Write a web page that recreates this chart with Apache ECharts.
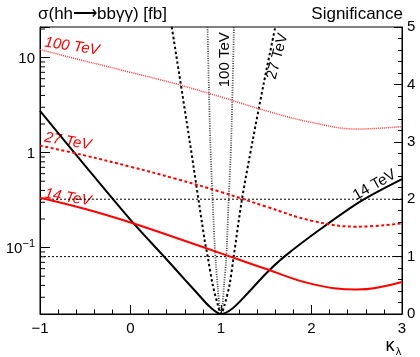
<!DOCTYPE html>
<html>
<head>
<meta charset="utf-8">
<script src="https://cdn.jsdelivr.net/npm/echarts@6/dist/echarts.min.js"></script>
<style>
  html, body { margin: 0; padding: 0; background: #fff; }
  #chart { width: 420px; height: 357px; }
</style>
</head>
<body>
<div id="chart"></div>
<script>
// Cross section sigma(hh -> bb gamma gamma) [fb] versus kappa_lambda
const kappaXsec = [-1, -0.5, 0, 0.5, 1, 1.5, 2, 2.5, 3];
const xsec14 = [0.335, 0.255, 0.184, 0.127, 0.087, 0.0595, 0.0415, 0.0362, 0.0435];
const xsec27 = [1.186, 0.93, 0.71, 0.53, 0.385, 0.27, 0.192, 0.166, 0.180];
const xsec100 = [12.15, 9.2, 7.0, 5.3, 3.85, 2.75, 2.08, 1.77, 1.88];

// Significance of the kappa_lambda = 1 hypothesis exclusion
const kappaSig14 = [-1, -0.5, 0, 0.4, 0.6, 0.75, 0.88, 1.0, 1.13, 1.3, 1.5, 1.7, 2.1, 2.55, 3.0];
const sig14 = [3.54, 2.58, 1.64, 0.95, 0.60, 0.34, 0.12, 0, 0.10, 0.37, 0.71, 1.0, 1.48, 1.97, 2.35];

const kappaSig27 = [0.456, 0.652, 0.818, 0.854, 0.909, 0.965, 1.0, 1.039, 1.094, 1.14, 1.232, 1.351, 1.47, 1.6];
const sig27 = [5.0, 3.03, 1.3, 0.99, 0.505, 0.157, 0, 0.157, 0.505, 1.0, 2.0, 3.03, 4.0, 5.0];

const kappaSig100 = [0.851, 0.881, 0.907, 0.93, 0.945, 0.965, 0.985, 1.0, 1.015, 1.033, 1.055, 1.065, 1.085, 1.113, 1.143];
const sig100 = [5.0, 3.03, 2.0, 1.2, 0.85, 0.45, 0.12, 0, 0.12, 0.5, 0.9, 1.2, 2.0, 3.03, 5.0];

// Reference significance levels
const sigLevels = [1, 2];

// Axis ranges and ticks
const kappaRange = [-1, 3];
const xsecRange = [0.02, 21];
const sigRange = [0, 5];
const xsecMinorTicks = [0.03, 0.04, 0.05, 0.06, 0.07, 0.08, 0.09,
                        0.2, 0.3, 0.4, 0.5, 0.6, 0.7, 0.8, 0.9,
                        2, 3, 4, 5, 6, 7, 8, 9, 20];

const FONT = '"Liberation Sans", Arial, Helvetica, sans-serif';
const RED = '#ff0000';
const BLACK = '#000000';

const zip = (xs, ys) => xs.map((x, i) => [x, ys[i]]);

function line(name, xs, ys, yAxisIndex, color, width, type, smooth) {
  return {
    name, type: 'line', xAxisIndex: 0, yAxisIndex,
    data: zip(xs, ys), showSymbol: false, symbol: 'none',
    smooth: smooth,
    lineStyle: { color, width, type, cap: 'butt' },
    silent: true, clip: true
  };
}

const minusSign = v => (v < 0 ? '\u2212' + (-v) : String(v));

const chart = echarts.init(document.getElementById('chart'), null, { renderer: 'canvas' });

const option = {
  animation: false,
  backgroundColor: '#ffffff',
  textStyle: { fontFamily: FONT },
  grid: {
    left: 40, right: 18, top: 27, bottom: 43,
    containLabel: false, outerBoundsMode: 'none',
    show: true, borderColor: BLACK, borderWidth: 1, backgroundColor: 'transparent'
  },
  xAxis: {
    type: 'value', min: kappaRange[0], max: kappaRange[1], interval: 1,
    axisLine: { show: true, onZero: false, lineStyle: { color: BLACK, width: 1 } },
    axisTick: { show: true, inside: true, length: 9, lineStyle: { color: BLACK, width: 1 } },
    minorTick: { show: true, splitNumber: 5, length: 4.5, lineStyle: { color: BLACK, width: 1 } },
    splitLine: { show: false },
    minorSplitLine: { show: false },
    axisLabel: { color: BLACK, fontSize: 15, fontFamily: FONT, margin: 7, formatter: minusSign }
  },
  yAxis: [
    {
      type: 'log', logBase: 10, min: xsecRange[0], max: xsecRange[1], splitNumber: 3,
      position: 'left',
      axisLine: { show: true, onZero: false, lineStyle: { color: BLACK, width: 1 } },
      axisTick: { show: true, inside: true, length: 10, lineStyle: { color: BLACK, width: 1 } },
      splitLine: { show: false },
      axisLabel: {
        color: BLACK, fontFamily: FONT, margin: 5,
        formatter: function (v) {
          const e = Math.log10(v);
          if (Math.abs(e - Math.round(e)) > 1e-6) return '';
          const n = Math.round(e);
          if (n === 0) return '{b|1}';
          if (n === 1) return '{b|10}';
          return '{b|10}{s|\u2212' + (-n) + '}';
        },
        rich: {
          b: { fontSize: 15, fontFamily: FONT, color: BLACK, lineHeight: 18, verticalAlign: 'bottom' },
          s: { fontSize: 11, fontFamily: FONT, color: BLACK, lineHeight: 12, verticalAlign: 'top' }
        }
      }
    },
    {
      type: 'value', min: sigRange[0], max: sigRange[1], interval: 1,
      position: 'right',
      axisLine: { show: true, onZero: false, lineStyle: { color: BLACK, width: 1 } },
      axisTick: { show: true, inside: true, length: 8, lineStyle: { color: BLACK, width: 1 } },
      minorTick: { show: true, splitNumber: 5, length: 4, lineStyle: { color: BLACK, width: 1 } },
      splitLine: { show: false },
      minorSplitLine: { show: false },
      axisLabel: { color: BLACK, fontSize: 15, fontFamily: FONT, margin: 5 }
    }
  ],
  series: [
    // minor ticks of the logarithmic cross-section axis
    {
      type: 'custom', xAxisIndex: 0, yAxisIndex: 0, silent: true,
      data: xsecMinorTicks.map(v => [kappaRange[0], v]),
      renderItem: function (params, api) {
        const p = api.coord([api.value(0), api.value(1)]);
        return {
          type: 'line',
          shape: { x1: p[0], y1: p[1], x2: p[0] + 5, y2: p[1] },
          style: { stroke: BLACK, lineWidth: 1 }
        };
      }
    },
    ...sigLevels.map(l => line('level ' + l, kappaRange, [l, l], 1, BLACK, 1, [2, 2], false)),
    line('sig 100 TeV', kappaSig100, sig100, 1, '#444444', 1.8, [1, 1.4], 0.3),
    line('sig 27 TeV', kappaSig27, sig27, 1, BLACK, 2, [2.5, 2.5], 0.3),
    line('sig 14 TeV', kappaSig14, sig14, 1, BLACK, 2, 'solid', 0.3),
    line('xsec 100 TeV', kappaXsec, xsec100, 0, '#ff3b3b', 1.5, [1, 1], 0.4),
    line('xsec 27 TeV', kappaXsec, xsec27, 0, RED, 2, [3, 2.5], 0.4),
    line('xsec 14 TeV', kappaXsec, xsec14, 0, RED, 2, 'solid', 0.4)
  ]
};

chart.setOption(option);

// Curve annotations anchored in data coordinates (axis 0: cross section, axis 1: significance)
const curveLabels = [
  { text: '100 TeV', at: [-0.646, 13.1], axis: 0, color: RED, italic: true, rot: -0.15 },
  { text: '27 TeV', at: [-0.691, 1.31], axis: 0, color: RED, italic: true, rot: -0.17 },
  { text: '14 TeV', at: [-0.691, 0.337], axis: 0, color: RED, italic: true, rot: -0.17 },
  { text: '14 TeV', at: [2.696, 2.247], axis: 1, color: BLACK, italic: false, rot: 0.52 },
  { text: '27 TeV', at: [1.624, 4.49], axis: 1, color: BLACK, italic: false, rot: 1.30 },
  { text: '100 TeV', at: [1.038, 4.43], axis: 1, color: BLACK, italic: false, rot: Math.PI / 2 }
];

const graphics = curveLabels.map(l => {
  const p = chart.convertToPixel({ xAxisIndex: 0, yAxisIndex: l.axis }, l.at);
  return {
    type: 'text', x: p[0], y: p[1], rotation: l.rot, silent: true,
    style: {
      text: l.text, fill: l.color, fontSize: 15, fontFamily: FONT,
      fontStyle: l.italic ? 'italic' : 'normal',
      align: 'center', verticalAlign: 'middle',
      textAlign: 'center', textVerticalAlign: 'middle'
    }
  };
});

// Axis titles
graphics.push({
  type: 'text', x: 38, y: 14, silent: true,
  style: { text: 'σ(hh⟶bbγγ) [fb]', fill: BLACK, fontSize: 17, fontFamily: FONT,
           align: 'left', verticalAlign: 'middle', textAlign: 'left', textVerticalAlign: 'middle' }
});
graphics.push({
  type: 'text', x: 403, y: 14, silent: true,
  style: { text: 'Significance', fill: BLACK, fontSize: 17, fontFamily: FONT,
           align: 'right', verticalAlign: 'middle', textAlign: 'right', textVerticalAlign: 'middle' }
});
graphics.push({
  type: 'text', x: 390, y: 346, silent: true,
  style: { text: 'κ', fill: BLACK, fontSize: 18, fontFamily: FONT,
           align: 'center', verticalAlign: 'middle', textAlign: 'center', textVerticalAlign: 'middle' }
});
graphics.push({
  type: 'text', x: 398.5, y: 352, silent: true,
  style: { text: 'λ', fill: BLACK, fontSize: 11, fontFamily: FONT,
           align: 'center', verticalAlign: 'middle', textAlign: 'center', textVerticalAlign: 'middle' }
});

chart.setOption({ graphic: graphics });
</script>
</body>
</html>
